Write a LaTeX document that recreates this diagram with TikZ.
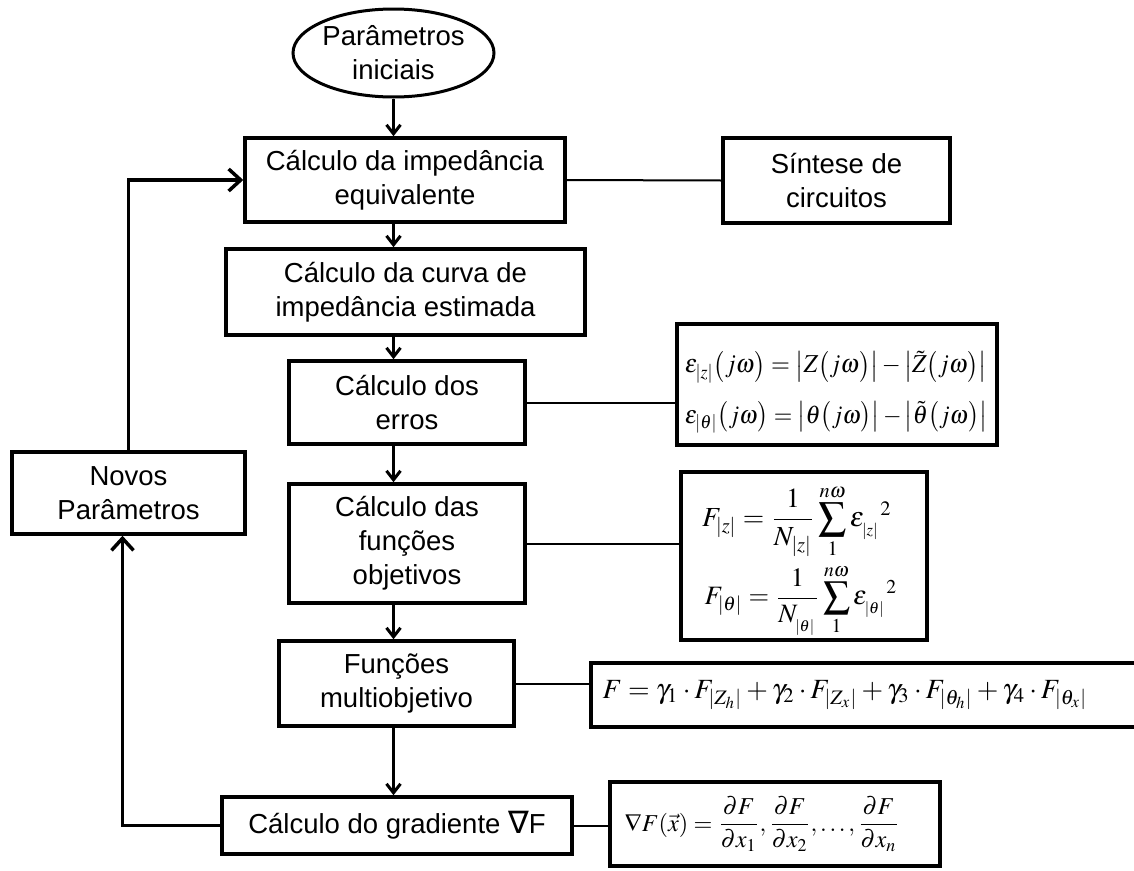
\documentclass[tikz,border=0pt]{standalone}
\usepackage{mathptmx}
\usepackage[no-math]{fontspec}
\setmainfont{Liberation Sans}
\newfontfamily\dejavu{DejaVu Sans}
\usepackage{graphicx}
\usetikzlibrary{arrows.meta,shapes.geometric}

\begin{document}
\begin{tikzpicture}[x=1pt,y=-1pt,
  box/.style={draw,line width=3.5pt,align=center,inner sep=0pt,font=\fontsize{27.5}{34}\selectfont},
  eqbox/.style={draw,line width=4pt,inner sep=0pt},
  eqtext/.style={inner sep=0pt},
  arr/.style={line width=3pt,-{Straight Barb[length=9pt,width=14pt,line width=3pt]}},
  bigarr/.style={line width=3.5pt,-{Straight Barb[length=12pt,width=22pt,line width=3.5pt]}},
  link/.style={line width=2pt},
]
\clip (0,0) rectangle (1134,870);
\fill[white] (0,0) rectangle (1134,870);

% main column
\node[box,ellipse,line width=3pt,minimum width=182pt,minimum height=88pt] (ell) at (393.5,53) {Parâmetros\\iniciais};
\node[box,minimum width=320pt,minimum height=84pt] (b1) at (405,180) {Cálculo da impedância\\equivalente};
\node[box,minimum width=227pt,minimum height=85pt] (sint) at (836.5,180.5) {Síntese de\\circuitos};
\node[box,minimum width=359pt,minimum height=86pt] (b2) at (405.5,292) {Cálculo da curva de\\impedância estimada};
\node[box,minimum width=236pt,minimum height=83pt] (b3) at (407,402.5) {Cálculo dos\\erros};
\node[box,minimum width=236pt,minimum height=119pt] (b4) at (407,543.5) {Cálculo das\\funções\\objetivos};
\node[box,minimum width=235pt,minimum height=85pt] (b5) at (396.5,683.5) {Funções\\multiobjetivo};
\node[box,minimum width=350pt,minimum height=57pt] (b6) at (397,825.5) {Cálculo do gradiente {\dejavu\fontsize{31}{34}\selectfont ∇}F};
\node[box,minimum width=233pt,minimum height=82pt] (novos) at (128.5,493) {Novos\\Parâmetros};

% equation boxes
\node[eqbox,line width=4.5pt,minimum width=320pt,minimum height=121pt] (eq1) at (837,384.5) {};
\node[eqtext] (eq1a) at (836,367) {\resizebox*{302pt}{32pt}{$\varepsilon_{|z|}\bigl(j\omega\bigr)=\bigl|Z\bigl(j\omega\bigr)\bigr|-\bigl|\tilde{Z}\bigl(j\omega\bigr)\bigr|$}};
\node[eqtext] (eq1b) at (836,417) {\resizebox*{302pt}{32pt}{$\varepsilon_{|\theta|}\bigl(j\omega\bigr)=\bigl|\theta\bigl(j\omega\bigr)\bigr|-\bigl|\tilde{\theta}\bigl(j\omega\bigr)\bigr|$}};

\node[eqbox,minimum width=246pt,minimum height=168pt] (eq2) at (804,556) {};
\node[eqtext] (eq2a) at (797,521) {\resizebox{190pt}{!}{$\displaystyle F_{|z|}=\frac{1}{N_{|z|}}\sum_{1}^{n\omega}\varepsilon_{{}_{|z|}}{}^{2}$}};
\node[eqtext] (eq2b) at (801,600) {\resizebox{193pt}{!}{$\displaystyle F_{|\theta|}=\frac{1}{N_{{}_{|\theta|}}}\sum_{1}^{n\omega}\varepsilon_{{}_{|\theta|}}{}^{2}$}};

\node[eqbox,minimum width=549pt,minimum height=64pt] (eq3) at (865.5,695) {};
\node[eqtext] (eq3a) at (845,695) {\resizebox{485pt}{!}{$F=\gamma_1\cdot F_{|Z_h|}+\gamma_2\cdot F_{|Z_x|}+\gamma_3\cdot F_{|\theta_h|}+\gamma_4\cdot F_{|\theta_x|}$}};

\node[eqbox,minimum width=330pt,minimum height=84pt] (eq4) at (775,824) {};
\node[eqtext] (eq4a) at (762,824) {\resizebox{275pt}{!}{$\displaystyle\nabla F(\vec{x})=\frac{\partial F}{\partial x_1},\frac{\partial F}{\partial x_2},\ldots,\frac{\partial F}{\partial x_n}$}};

% flow arrows
\draw[arr] (ell.south) -- (ell.south |- b1.north);
\draw[arr] (b1.south -| ell.south) -- (b2.north -| ell.south);
\draw[arr] (b2.south -| ell.south) -- (b3.north -| ell.south);
\draw[arr,line width=3.5pt] (b3.south -| ell.south) -- (b4.north -| ell.south);
\draw[arr,line width=3.5pt] (b4.south -| ell.south) -- (b5.north -| ell.south);
\draw[arr,line width=3.5pt] (b5.south -| ell.south) -- (b6.north -| ell.south);

% links to side boxes
\draw[link] (b1.east) -- (sint.west);
\draw[link] (b3.east) -- (b3.east -| eq1.west);
\draw[link] (b4.east) -- (b4.east -| eq2.west);
\draw[link] (b5.east) -- (b5.east -| eq3.west);
\draw[link] (b6.east) -- (b6.east -| eq4.west);

% feedback loop
\coordinate (nb) at ([xshift=-6pt]novos.south);
\coordinate (cb) at (nb |- b6.west);
\draw[bigarr] (b6.west) -- (cb) -- (nb);
\draw[bigarr] (novos.north) |- (b1.west);
\end{tikzpicture}
\end{document}
